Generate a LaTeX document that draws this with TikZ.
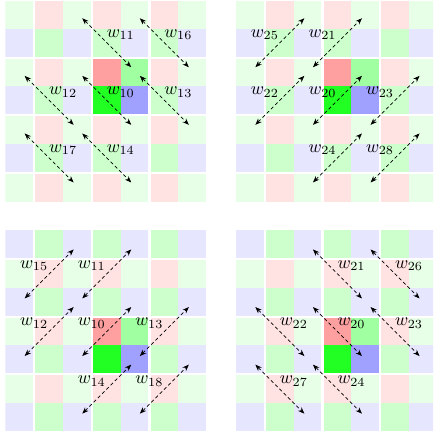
\documentclass[tikz,border=0pt]{standalone}
\usepackage{graphicx}
\usetikzlibrary{arrows.meta}
\definecolor{cR}{HTML}{FFE3E3}
\definecolor{cGa}{HTML}{E6FFE6}
\definecolor{cGb}{HTML}{CCFFCC}
\definecolor{cB}{HTML}{E6E6FF}
\definecolor{kR}{HTML}{FFA0A0}
\definecolor{kGa}{HTML}{A0FFA0}
\definecolor{kGb}{HTML}{22FF22}
\definecolor{kB}{HTML}{A0A0FF}
\tikzset{
  warr/.style={line width=0.7pt, dash pattern=on 3.4pt off 2.6pt,
    {Stealth[length=6.5pt,width=5pt]}-{Stealth[length=6.5pt,width=5pt]}},
  wlab/.style={inner sep=0pt}
}
\newcommand\wl[1]{\scalebox{1.78}{$w_{#1}$}}
\newcommand\cellblock[6]{%
  \fill[#3] (#1,#2) rectangle ++(27.7,27.7);
  \fill[#4] (#1+27.7,#2) rectangle ++(27.7,27.7);
  \fill[#5] (#1,#2+27.7) rectangle ++(27.7,27.7);
  \fill[#6] (#1+27.7,#2+27.7) rectangle ++(27.7,27.7);
}
\newcommand\panelgrid[6]{%
  \begin{scope}
    \clip (#3,#4) rectangle (#5,#6);
    \foreach \i in {-2,...,2}{
      \foreach \j in {-2,...,2}{
        \pgfmathsetmacro\bx{#1+57.6*\i}
        \pgfmathsetmacro\by{#2+57.6*\j}
        \cellblock{\bx}{\by}{cR}{cGa}{cGb}{cB}
      }
    }
  \end{scope}
  \cellblock{#1}{#2}{kR}{kGa}{kGb}{kB}
}
\newcommand\arrdown[4]{%
  \coordinate (#1a) at (#2-24.5,#3-24.5);
  \coordinate (#1b) at (#2+24.5,#3+24.5);
  \draw[warr] (#1a) -- (#1b);
  \node[wlab] (#1l) at (#2+14,#3-8.2) {\wl{#4}};
}
\newcommand\arrup[4]{%
  \coordinate (#1a) at (#2-24.5,#3+24.5);
  \coordinate (#1b) at (#2+24.5,#3-24.5);
  \draw[warr] (#1a) -- (#1b);
  \node[wlab] (#1l) at (#2-15,#3-8.2) {\wl{#4}};
}
\begin{document}
\begin{tikzpicture}[x=1pt,y=-1pt]
\useasboundingbox (0,0) rectangle (433,435);
\fill[white] (0,0) rectangle (433,435);
% grids
\panelgrid{92.9}{58.8}{5.4}{1.2}{205.9}{201.7}
\panelgrid{323.6}{58.8}{236.1}{1.2}{433}{201.7}
\panelgrid{92.9}{317.7}{5.4}{230.2}{205.9}{430.7}
\panelgrid{323.6}{317.7}{236.1}{230.2}{433}{430.7}
% panel 1
\arrdown{a11}{106.75}{42.75}{11}
\arrdown{a16}{164.35}{42.75}{16}
\arrdown{a12}{49.15}{100.35}{12}
\arrdown{a10}{106.75}{100.35}{10}
\arrdown{a13}{164.35}{100.35}{13}
\arrdown{a17}{49.15}{157.95}{17}
\arrdown{a14}{106.75}{157.95}{14}
% panel 2
\arrup{b25}{279.85}{42.75}{25}
\arrup{b21}{337.45}{42.75}{21}
\arrup{b22}{279.85}{100.35}{22}
\arrup{b20}{337.45}{100.35}{20}
\arrup{b23}{395.05}{100.35}{23}
\arrup{b24}{337.45}{157.95}{24}
\arrup{b28}{395.05}{157.95}{28}
% panel 3
\arrup{c15}{49.15}{273.95}{15}
\arrup{c11}{106.75}{273.95}{11}
\arrup{c12}{49.15}{331.55}{12}
\arrup{c10}{106.75}{331.55}{10}
\arrup{c13}{164.35}{331.55}{13}
\arrup{c14}{106.75}{389.15}{14}
\arrup{c18}{164.35}{389.15}{18}
% panel 4
\arrdown{d21}{337.45}{273.95}{21}
\arrdown{d26}{395.05}{273.95}{26}
\arrdown{d22}{279.85}{331.55}{22}
\arrdown{d20}{337.45}{331.55}{20}
\arrdown{d23}{395.05}{331.55}{23}
\arrdown{d27}{279.85}{389.15}{27}
\arrdown{d24}{337.45}{389.15}{24}
\end{tikzpicture}
\end{document}
